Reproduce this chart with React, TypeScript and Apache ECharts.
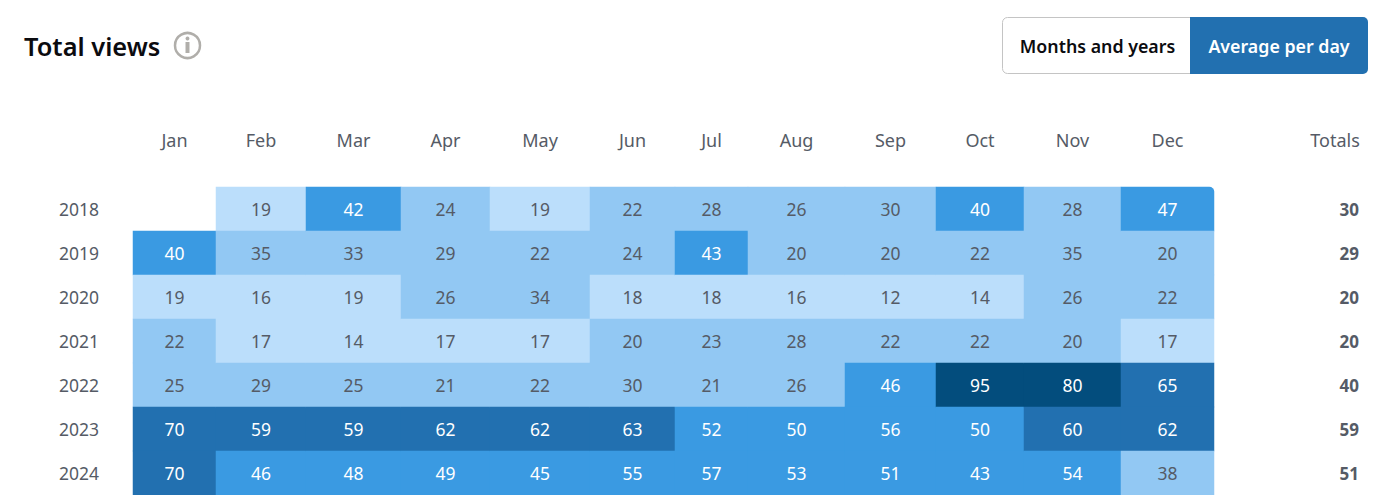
import React, { useEffect, useRef } from "react";
import * as echarts from "echarts";

const months = ["Jan", "Feb", "Mar", "Apr", "May", "Jun", "Jul", "Aug", "Sep", "Oct", "Nov", "Dec"];
const years = ["2018", "2019", "2020", "2021", "2022", "2023", "2024"];
const totals = ["30", "29", "20", "20", "40", "59", "51"];

const row2018 = [null, 19, 42, 24, 19, 22, 28, 26, 30, 40, 28, 47];
const row2019 = [40, 35, 33, 29, 22, 24, 43, 20, 20, 22, 35, 20];
const row2020 = [19, 16, 19, 26, 34, 18, 18, 16, 12, 14, 26, 22];
const row2021 = [22, 17, 14, 17, 17, 20, 23, 28, 22, 22, 20, 17];
const row2022 = [25, 29, 25, 21, 22, 30, 21, 26, 46, 95, 80, 65];
const row2023 = [70, 59, 59, 62, 62, 63, 52, 50, 56, 50, 60, 62];
const row2024 = [70, 46, 48, 49, 45, 55, 57, 53, 51, 43, 54, 38];
const rows = [row2018, row2019, row2020, row2021, row2022, row2023, row2024];

const columnEdges = [133, 216, 306, 401, 490, 590, 675, 748, 845, 936, 1024, 1121, 1214];
const FONT = "'Noto Sans', 'Open Sans', sans-serif";
const GREY = "#555b66";
const TOP = 187;
const HEIGHT = 308;

export default function App() {
  const ref = useRef<HTMLDivElement>(null);
  useEffect(() => {
    document.body.style.margin = "0";
    const chart = echarts.init(ref.current!, null, { renderer: "svg" });
    const grid: any[] = [];
    const xAxis: any[] = [];
    const yAxis: any[] = [];
    const series: any[] = [];
    const axisBase = {
      axisLine: { show: false },
      axisTick: { show: false },
      splitLine: { show: false },
    };
    months.forEach((m, i) => {
      grid.push({ left: columnEdges[i], width: columnEdges[i + 1] - columnEdges[i], top: TOP, height: HEIGHT });
      xAxis.push({
        ...axisBase,
        type: "category",
        gridIndex: i,
        position: "top",
        data: [m],
        axisLabel: { color: GREY, fontSize: 18, fontFamily: FONT, margin: 38 },
      });
      yAxis.push({
        ...axisBase,
        type: "category",
        gridIndex: i,
        inverse: true,
        data: years,
        axisLabel: { show: i === 0, color: GREY, fontSize: 17.5, fontFamily: FONT, margin: 34 },
      });
      series.push({
        type: "heatmap",
        xAxisIndex: i,
        yAxisIndex: i,
        progressive: 0,
        data: rows
          .map((r, y) => ({ v: r[i], y }))
          .filter((d) => d.v !== null)
          .map((d) => ({
            value: [0, d.y, d.v],
            label: { color: (d.v as number) >= 40 ? "#ffffff" : GREY },
            itemStyle: i === 11 && d.y === 0 ? { borderRadius: [0, 5, 0, 0] } : undefined,
          })),
        label: {
          show: true,
          fontSize: 17.5,
          fontFamily: FONT,
          formatter: (p: any) => String(p.value[2]),
        },
        emphasis: { disabled: true },
      });
    });
    const t = months.length;
    grid.push({ left: 1311, width: 48, top: TOP, height: HEIGHT });
    xAxis.push({
      ...axisBase,
      type: "category",
      gridIndex: t,
      position: "top",
      data: ["Totals"],
      axisLabel: { color: GREY, fontSize: 18, fontFamily: FONT, margin: 38 },
    });
    yAxis.push({
      ...axisBase,
      type: "category",
      gridIndex: t,
      position: "right",
      inverse: true,
      data: totals,
      axisLabel: { inside: true, margin: 0, color: GREY, fontSize: 17, fontWeight: 700, fontFamily: FONT },
    });

    chart.setOption({
      animation: false,
      tooltip: { show: false },
      grid,
      xAxis,
      yAxis,
      series,
      visualMap: {
        show: false,
        type: "piecewise",
        dimension: 2,
        seriesIndex: months.map((_, i) => i),
        pieces: [
          { lt: 20, color: "#bbdefb" },
          { gte: 20, lt: 40, color: "#92c8f3" },
          { gte: 40, lt: 58, color: "#3a9ae2" },
          { gte: 58, lt: 75, color: "#2270b0" },
          { gte: 75, color: "#034d7d" },
        ],
      },
      graphic: [
        { type: "text", x: 24, y: 46, style: { text: "Total views", fill: "#0b0b0f", font: `600 25.4px ${FONT}`, textVerticalAlign: "middle" } },
        { type: "circle", shape: { cx: 187.5, cy: 45.5, r: 12.5 }, style: { fill: "none", stroke: "#b0aeaa", lineWidth: 2.5 } },
        { type: "circle", shape: { cx: 187.5, cy: 38.5, r: 1.9 }, style: { fill: "#b0aeaa" } },
        { type: "rect", shape: { x: 185.5, y: 42, width: 4, height: 11 }, style: { fill: "#b0aeaa" } },
        { type: "rect", shape: { x: 1002.5, y: 17.5, width: 188, height: 56, r: [5, 0, 0, 5] }, style: { fill: "#ffffff", stroke: "#c4c4c4", lineWidth: 1 } },
        { type: "rect", shape: { x: 1190, y: 17, width: 178, height: 57, r: [0, 5, 5, 0] }, style: { fill: "#2270b0" } },
        { type: "text", x: 1097.5, y: 46, style: { text: "Months and years", fill: "#0b0b0f", font: `600 17.8px ${FONT}`, textAlign: "center", textVerticalAlign: "middle" } },
        { type: "text", x: 1279, y: 46, style: { text: "Average per day", fill: "#ffffff", font: `600 17.8px ${FONT}`, textAlign: "center", textVerticalAlign: "middle" } },
      ],
    });
    return () => chart.dispose();
  }, []);
  return <div ref={ref} style={{ width: 1400, height: 495, background: "#fff" }} />;
}
